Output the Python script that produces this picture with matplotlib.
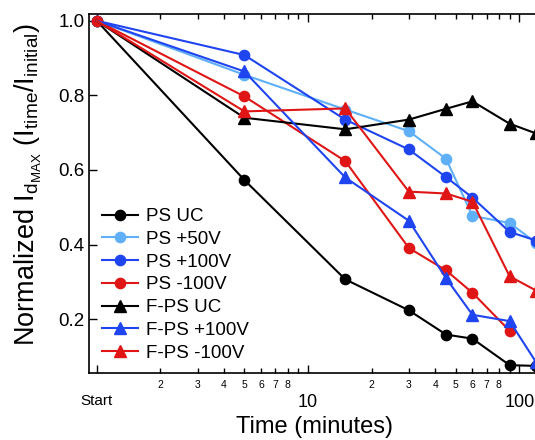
import matplotlib
matplotlib.use("Agg")
import matplotlib.pyplot as plt
from matplotlib.ticker import FixedLocator, FixedFormatter

plt.rcParams['font.family'] = ['Liberation Sans', 'DejaVu Sans']
plt.rcParams['mathtext.fontset'] = 'custom'
plt.rcParams['mathtext.rm'] = 'Liberation Sans'
plt.rcParams['mathtext.it'] = 'Liberation Sans'
plt.rcParams['mathtext.bf'] = 'Liberation Sans:bold'
plt.rcParams['mathtext.default'] = 'regular'

# ---- data ----
times = [1, 5, 15, 30, 45, 60, 90, 120]
times_short = [1, 5, 15, 30, 45, 60, 90]
ps_uc = [1.0, 0.573, 0.307, 0.224, 0.159, 0.148, 0.077, 0.075]
ps_p50 = [1.0, 0.855, 0.762, 0.704, 0.630, 0.477, 0.458, 0.405]
ps_p100 = [1.0, 0.908, 0.735, 0.655, 0.581, 0.526, 0.434, 0.411]
ps_m100 = [1.0, 0.797, 0.624, 0.391, 0.331, 0.271, 0.169]
fps_uc = [1.0, 0.740, 0.709, 0.735, 0.764, 0.784, 0.724, 0.698]
fps_p100 = [1.0, 0.864, 0.580, 0.464, 0.310, 0.212, 0.195, 0.085]
fps_m100 = [1.0, 0.757, 0.765, 0.542, 0.537, 0.515, 0.315, 0.277]

major_ticks = [1, 10, 100]
major_labels = ['Start', '10', '100']
minor_ticks = [2, 3, 4, 5, 6, 7, 8, 9, 20, 30, 40, 50, 60, 70, 80, 90]
minor_labels = ['2', '3', '4', '5', '6', '7', '8', '', '2', '3', '4', '5', '6', '7', '8', '']
y_ticks = [0.2, 0.4, 0.6, 0.8, 1.0]
y_labels = ['0.2', '0.4', '0.6', '0.8', '1.0']

BLACK = '#000000'
LBLUE = '#5fb0f6'
BLUE = '#1f45f0'
RED = '#e01616'

W, H = 535, 440
fig = plt.figure(figsize=(W / 100, H / 100), dpi=100)
ax_l, ax_r, ax_t, ax_b = 89, 535, 14, 373
ax = fig.add_axes([ax_l / W, 1 - ax_b / H, (ax_r - ax_l) / W, (ax_b - ax_t) / H])

ms = 7.4
lw = 1.5
series = [
    ('PS UC', times, ps_uc, BLACK, 'o'),
    ('PS +50V', times, ps_p50, LBLUE, 'o'),
    ('PS +100V', times, ps_p100, BLUE, 'o'),
    ('PS -100V', times_short, ps_m100, RED, 'o'),
    ('F-PS UC', times, fps_uc, BLACK, '^'),
    ('F-PS +100V', times, fps_p100, BLUE, '^'),
    ('F-PS -100V', times, fps_m100, RED, '^'),
]
handles = []
for lab, x, y, c, m in series:
    if m == 'o':
        h, = ax.plot(x, y, color=c, marker=m, ms=ms, lw=lw, label=lab)
    else:
        h, = ax.plot(x, y, color=c, marker=m, ms=ms + 0.8, lw=lw, label=lab,
                     markevery=slice(1, None), zorder=2.1)
    handles.append(h)

ax.set_xscale('log')
ax.set_xlim(10 ** (-0.0364), 10 ** 2.0742)
ax.set_ylim(0.056, 1.018)

ax.xaxis.set_major_locator(FixedLocator(major_ticks))
ax.xaxis.set_major_formatter(FixedFormatter(major_labels))
ax.xaxis.set_minor_locator(FixedLocator(minor_ticks))
ax.xaxis.set_minor_formatter(FixedFormatter(minor_labels))
ax.set_yticks(y_ticks)
ax.set_yticklabels(y_labels)

ax.tick_params(which='both', direction='in', top=True, right=False, width=1.0)
ax.tick_params(which='major', length=6)
ax.tick_params(which='minor', length=3.5)
ax.tick_params(axis='x', which='major', labelsize=13, pad=15)
ax.tick_params(axis='x', which='minor', labelsize=7.5, pad=5)
ax.tick_params(axis='y', which='major', labelsize=13.5, pad=3)
for t in ax.get_xticklabels():
    if t.get_text() == 'Start':
        t.set_fontsize(11)

for s in ['left', 'bottom', 'top']:
    ax.spines[s].set_linewidth(1.2)
ax.spines['right'].set_visible(False)

fig.text(314 / W, 1 - 427 / H, 'Time (minutes)', fontsize=17, ha='center', va='center')
fig.text(28 / W, 1 - 184 / H, r'Normalized $I_{d_{MAX}}$ $(I_{time}/I_{initial})$',
         fontsize=19.5, rotation=90, ha='center', va='center')

leg = ax.legend(handles=handles, loc='upper left', frameon=False,
                bbox_to_anchor=(102 / W, 1 - 208 / H), bbox_transform=fig.transFigure,
                borderpad=0, borderaxespad=0, handlelength=1.9, handletextpad=0.45,
                labelspacing=0.30, fontsize=13.5)

fig.savefig('out.png', dpi=100)
